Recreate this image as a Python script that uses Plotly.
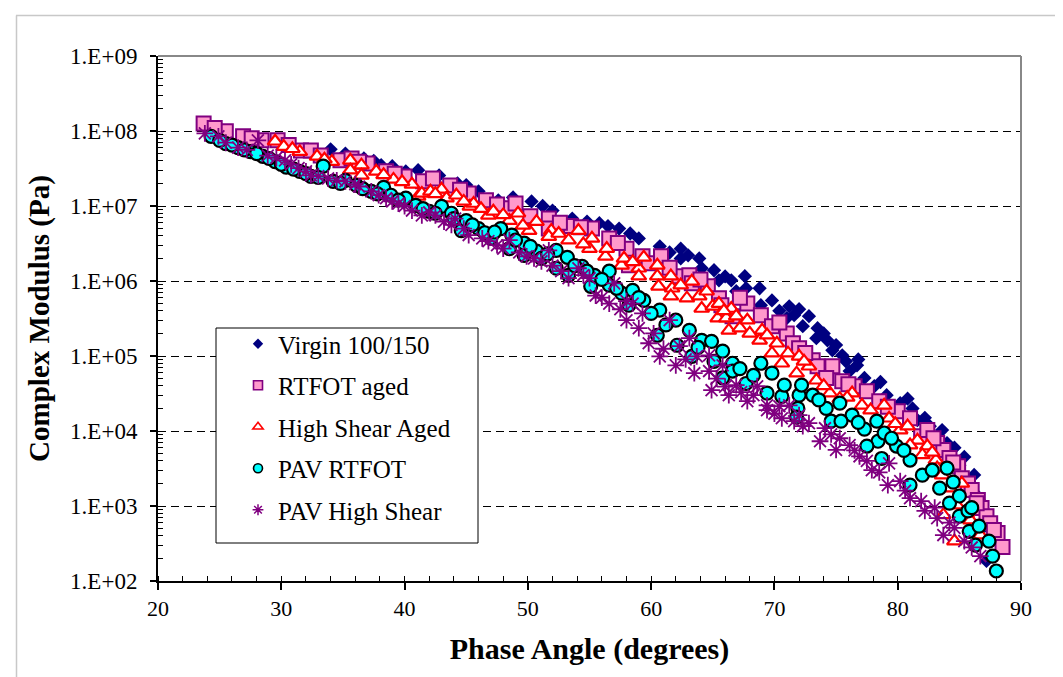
import plotly.graph_objects as go

# ---------------- data ----------------
virgin_phase = [34.0, 35.2, 36.7, 38.1, 40.1, 41.1, 42.8, 44.3, 46.0, 47.6,
                50.3, 52.0, 53.6, 55.8, 57.4, 59.0, 60.7, 62.4, 62.4, 63.9,
                64.1, 65.1, 65.5, 66.5, 66.9, 67.6, 67.7, 68.8, 68.9, 69.8,
                71.0, 71.2, 71.6, 72.3, 72.8, 73.4, 73.5, 74.3, 74.7, 75.5,
                75.8, 76.1, 76.7, 77.3, 78.1, 79.1, 80.2, 81.2, 81.6, 82.6,
                83.6, 84.0, 84.5, 85.0, 85.6, 85.9, 86.4, 87.1, 86.9, 87.2,
                37.5, 39.0, 45.0, 48.8, 51.2, 54.8, 56.5, 58.3, 61.5, 63.0,
                66.0, 70.4, 72.0, 74.0, 75.0, 76.8, 78.6, 80.8, 82.2, 84.6,
                85.4, 86.2, 86.8]
virgin_modulus = [5.7e7, 5.0e7, 4.3e7, 3.5e7, 2.9e7, 3.0e7, 2.56e7, 2.0e7, 1.57e7, 1.19e7,
                  1.15e7, 8.7e6, 6.8e6, 5.9e6, 5.0e6, 3.7e6, 2.9e6, 2.7e6, 2.0e6, 2.0e6,
                  1.48e6, 1.39e6, 1.02e6, 1.02e6, 7.3e5, 1.16e6, 8.0e5, 8.0e5, 4.75e5, 5.5e5,
                  3.2e5, 4.6e5, 3.5e5, 2.5e5, 3.4e5, 1.73e5, 2.35e5, 1.62e5, 1.19e5, 1.02e5,
                  8.5e4, 6.3e4, 7.5e4, 5.1e4, 3.95e4, 3.0e4, 2.35e4, 2.0e4, 1.4e4, 1.16e4,
                  1.03e4, 6.9e3, 3.96e3, 3.5e3, 1.9e3, 2.0e3, 1.4e3, 8.0e2, 5.1e2, 1.85e2,
                  4.0e7, 3.4e7, 1.9e7, 1.3e7, 1.0e7, 6.2e6, 5.4e6, 4.3e6, 2.4e6, 2.2e6,
                  1.15e6, 4.0e5, 4.2e5, 2.0e5, 1.4e5, 9.0e4, 4.5e4, 2.7e4, 1.5e4, 6.0e3,
                  4.5e3, 2.6e3, 1.1e3]

rtfot_phase = [23.7, 25.5, 26.9, 28.4, 29.7, 31.6, 32.4, 33.2, 34.8, 35.7,
               37.0, 38.5, 40.0, 41.5, 42.3, 43.7, 45.2, 46.6, 48.3, 49.0,
               50.2, 51.7, 51.7, 53.5, 55.2, 56.6, 58.0, 58.2, 59.3, 59.8,
               60.8, 62.3, 63.1, 63.3, 64.6, 65.5, 65.7, 66.6, 67.8, 68.9,
               69.8, 71.0, 71.5, 72.0, 73.1, 73.5, 74.7, 74.2, 75.5, 76.5,
               77.5, 78.5, 80.0, 81.0, 81.9, 82.4, 83.2, 83.7, 84.2, 84.9,
               85.2, 85.7, 86.0, 86.5, 86.8, 87.2, 86.4, 87.5, 88.1, 88.5,
               24.6, 27.6, 30.6, 36.3, 39.2, 44.5, 47.5, 52.6, 54.3, 57.3,
               61.5, 64.0, 67.2, 70.4, 72.5, 76.0, 79.2, 82.9, 84.5, 87.8]
rtfot_modulus = [1.26e8, 9.9e7, 8.5e7, 7.5e7, 7.5e7, 5.5e7, 5.5e7, 4.7e7, 4.06e7, 4.3e7,
                 3.7e7, 2.9e7, 2.48e7, 2.13e7, 2.33e7, 1.88e7, 1.47e7, 1.19e7, 9.3e6, 1.08e7,
                 7.3e6, 6.8e6, 5.0e6, 5.4e6, 5.0e6, 3.7e6, 2.7e6, 1.62e6, 2.13e6, 1.72e6,
                 2.13e6, 1.16e6, 1.19e6, 9.3e5, 8.5e5, 5.9e5, 4.75e5, 3.4e5, 5.0e5, 3.5e5,
                 2.5e5, 2.0e5, 1.48e5, 1.27e5, 8.8e4, 7.3e4, 7.3e4, 5.1e4, 4.6e4, 3.95e4,
                 3.4e4, 2.5e4, 1.84e4, 1.48e4, 8.5e3, 1.03e4, 6.9e3, 5.6e3, 4.35e3, 3.4e3,
                 2.35e3, 2.0e3, 1.63e3, 1.2e3, 9.4e2, 7.3e2, 1.09e3, 5.9e2, 4.35e2, 2.84e2,
                 1.1e8, 8.0e7, 6.5e7, 3.9e7, 2.7e7, 1.65e7, 1.05e7, 6.0e6, 5.2e6, 3.2e6,
                 1.5e6, 1.05e6, 6.0e5, 2.8e5, 1.1e5, 4.2e4, 2.1e4, 8.0e3, 3.8e3, 4.8e2]

hs_phase = [29.5, 30.2, 31.5, 32.9, 34.1, 35.6, 35.6, 36.5, 36.5, 37.7,
            39.1, 40.6, 41.1, 41.4, 42.1, 43.0, 43.4, 44.2, 45.3, 45.6,
            46.8, 47.2, 48.5, 49.2, 50.1, 50.7, 51.9, 51.7, 53.3, 54.1,
            55.0, 55.2, 56.3, 56.4, 57.6, 57.8, 59.0, 59.4, 59.0, 60.5,
            60.5, 60.6, 61.6, 61.7, 61.6, 63.3, 62.9, 63.9, 64.5, 64.1,
            65.0, 65.5, 65.4, 66.5, 66.1, 66.9, 66.3, 67.2, 67.8, 68.0,
            68.8, 69.0, 70.2, 69.8, 71.1, 70.6, 72.0, 71.8, 72.8, 73.4,
            74.5, 75.3, 76.3, 77.1, 78.9, 79.3, 80.2, 80.8, 81.6, 81.0,
            82.4, 82.0, 83.1, 83.2, 83.6, 84.2, 84.8, 83.7, 85.9, 84.6, 86.7,
            30.9, 33.5, 38.3, 39.8, 42.5, 44.8, 46.2, 48.0, 49.6, 52.5,
            54.5, 58.5, 62.4, 65.9, 69.4, 72.4, 74.0, 75.9, 77.8, 79.8,
            82.8, 85.2, 85.6]
hs_modulus = [7.3e7, 6.2e7, 5.3e7, 4.6e7, 3.9e7, 4.06e7, 3.0e7, 3.5e7, 2.56e7, 2.9e7,
              2.26e7, 1.94e7, 1.34e7, 1.47e7, 1.57e7, 1.67e7, 1.27e7, 1.39e7, 9.9e6, 1.08e7,
              7.5e6, 8.5e6, 6.4e6, 8.0e6, 4.7e6, 6.2e6, 4.7e6, 3.9e6, 3.5e6, 4.7e6,
              2.7e6, 3.7e6, 2.13e6, 2.7e6, 1.62e6, 2.0e6, 1.48e6, 2.07e6, 1.16e6, 1.62e6,
              1.16e6, 8.5e5, 1.16e6, 8.0e5, 6.3e5, 9.9e5, 5.9e5, 6.3e5, 7.3e5, 4.3e5,
              4.6e5, 5.0e5, 3.2e5, 4.3e5, 3.2e5, 3.4e5, 2.2e5, 2.35e5, 3.0e5, 2.0e5,
              1.62e5, 2.2e5, 1.48e5, 1.09e5, 1.09e5, 8.0e4, 9.9e4, 5.9e4, 7.3e4, 4.75e4,
              3.2e4, 2.7e4, 3.2e4, 2.2e4, 2.2e4, 1.48e4, 1.03e4, 1.16e4, 7.5e3, 6.5e3,
              6.3e3, 4.8e3, 4.1e3, 3.2e3, 2.58e3, 1.73e3, 1.03e3, 7.6e2, 6.5e2, 3.4e2, 4.1e2,
              5.8e7, 4.2e7, 2.6e7, 2.1e7, 1.45e7, 1.15e7, 9.2e6, 7.6e6, 5.5e6, 4.3e6,
              3.1e6, 1.8e6, 8.8e5, 4.0e5, 1.9e5, 8.5e4, 4.0e4, 2.8e4, 1.9e4, 1.25e4,
              5.2e3, 2.0e3, 8.0e2]

pr_phase = [24.3, 25.5, 26.5, 27.5, 28.5, 29.5, 30.4, 31.5, 32.4, 33.4,
            34.2, 35.2, 36.1, 37.3, 38.3, 38.9, 40.1, 40.9, 42.0, 43.0,
            43.8, 44.6, 45.0, 46.0, 47.0, 47.8, 48.7, 48.5, 49.7, 49.7,
            50.7, 51.1, 52.3, 52.3, 53.2, 53.3, 54.4, 55.1, 55.4, 56.6,
            56.6, 57.6, 58.5, 58.2, 59.4, 60.7, 60.5, 62.0, 62.1, 63.1,
            63.3, 64.1, 64.9, 65.1, 65.8, 65.8, 66.6, 66.6, 67.7, 68.9,
            69.4, 69.8, 70.6, 70.8, 71.9, 72.0, 72.2, 73.1, 74.2, 75.3,
            76.3, 77.3, 78.3, 78.4, 78.9, 79.9, 81.0, 81.0, 82.0, 83.4,
            84.0, 84.2, 84.5, 85.0, 85.0, 85.7, 85.8, 86.3, 86.6, 87.4,
            87.7, 88.0, 71.8, 74.6, 75.4, 77.5, 78.7,
            25.0, 26.0, 27.0, 28.0, 29.0, 30.0, 31.0, 32.0, 33.0, 34.8,
            36.6, 37.8, 39.5, 41.5, 42.5, 44.0, 45.5, 46.5, 47.3, 49.0,
            50.2, 51.6, 53.8, 54.8, 56.0, 57.2, 59.0, 60.0, 61.2, 63.8,
            67.2, 68.3, 73.6, 76.8, 79.5, 80.5, 82.8, 86.0]
pr_modulus = [8.5e7, 6.8e7, 6.0e7, 5.3e7, 4.6e7, 3.9e7, 3.3e7, 2.9e7, 2.48e7, 3.4e7,
              2.13e7, 2.2e7, 1.88e7, 1.57e7, 1.77e7, 1.39e7, 1.27e7, 1.02e7, 8.5e6, 9.9e6,
              8.0e6, 4.7e6, 6.4e6, 5.0e6, 3.7e6, 5.0e6, 4.1e6, 2.7e6, 3.2e6, 2.2e6,
              2.5e6, 2.0e6, 2.56e6, 1.48e6, 2.07e6, 1.19e6, 1.57e6, 8.5e5, 1.19e6, 1.35e6,
              8.8e5, 6.9e5, 7.5e5, 4.75e5, 5.5e5, 4.1e5, 1.89e5, 3.0e5, 1.39e5, 2.2e5,
              9.9e4, 1.62e5, 1.57e5, 8.5e4, 1.16e5, 5.1e4, 8.0e4, 6.3e4, 4.3e4, 8.0e4,
              3.2e4, 5.9e4, 2.9e4, 4.1e4, 2.0e4, 3.0e4, 4.1e4, 3.0e4, 2.0e4, 2.35e4,
              1.63e4, 1.06e4, 1.35e4, 7.3e3, 9.4e3, 6.3e3, 4.1e3, 1.9e3, 2.58e3, 1.73e3,
              3.2e3, 1.09e3, 2.08e3, 1.36e3, 7.3e2, 8.6e2, 4.6e2, 3.0e2, 5.4e2, 3.4e2,
              2.15e2, 1.36e2, 1.53e4, 1.35e4, 1.35e4, 6.3e3, 4.3e3,
              7.5e7, 6.5e7, 5.6e7, 5.0e7, 4.3e7, 3.6e7, 3.1e7, 2.7e7, 2.4e7, 2.0e7,
              1.7e7, 1.45e7, 1.2e7, 9.2e6, 8.0e6, 6.8e6, 5.6e6, 4.4e6, 4.5e6, 3.5e6,
              2.9e6, 2.3e6, 1.6e6, 1.35e6, 1.05e6, 8.0e5, 6.0e5, 3.7e5, 2.6e5, 1.3e5,
              6.8e4, 5.5e4, 2.6e4, 1.3e4, 8.0e3, 5.5e3, 3.0e3, 9.5e2]

ph_phase = [23.8, 24.9, 26.5, 28.1, 28.9, 30.3, 31.4, 32.4, 33.8, 35.2,
            36.3, 37.3, 38.5, 39.5, 40.6, 41.4, 42.5, 43.2, 44.1, 45.2,
            46.3, 47.5, 48.5, 49.9, 51.1, 51.7, 52.7, 53.3, 54.1, 55.0,
            55.5, 56.6, 58.0, 58.5, 59.0, 59.3, 59.8, 60.7, 61.5, 62.3,
            63.1, 63.7, 64.7, 64.7, 65.8, 66.3, 66.9, 67.8, 68.6, 69.4,
            70.4, 71.2, 72.0, 72.8, 73.7, 74.1, 75.3, 76.1, 76.9, 77.9,
            79.3, 79.2, 80.2, 81.0, 81.9, 82.2, 83.2, 83.7, 84.6, 85.4,
            86.7, 57.0, 58.0, 62.0, 63.5, 64.9, 69.4, 70.6, 72.3, 75.0,
            25.5, 27.2, 29.6, 30.8, 32.0, 33.0, 34.5, 36.0, 37.9, 39.0,
            40.0, 42.0, 43.8, 44.8, 46.8, 48.0, 49.3, 50.5, 52.0, 54.5,
            56.0, 57.5, 60.2, 61.0, 62.8, 65.3, 66.0, 67.3, 68.3, 70.0,
            71.6, 74.6, 76.5, 77.5, 78.5, 80.6, 83.0, 84.2, 86.0]
ph_modulus = [9.3e7, 8.5e7, 6.0e7, 7.5e7, 4.7e7, 4.06e7, 3.2e7, 2.56e7, 2.33e7, 2.13e7,
              1.82e7, 1.57e7, 1.27e7, 1.08e7, 8.7e6, 7.5e6, 7.5e6, 6.2e6, 6.8e6, 4.1e6,
              3.7e6, 3.0e6, 3.5e6, 2.13e6, 1.83e6, 2.56e6, 1.35e6, 1.09e6, 1.48e6, 1.09e6,
              6.4e5, 5.0e5, 3.0e5, 5.0e5, 2.35e5, 3.7e5, 1.48e5, 9.9e4, 3.0e5, 1.35e5,
              1.73e5, 9.9e4, 1.02e5, 6.3e4, 7.5e4, 3.0e4, 4.1e4, 2.5e4, 3.95e4, 2.2e4,
              2.14e4, 2.2e4, 1.63e4, 1.27e4, 7.3e3, 1.09e4, 8.0e3, 6.5e3, 4.6e3, 3.0e3,
              3.7e3, 1.9e3, 2.15e3, 1.27e3, 1.16e3, 8.6e2, 6.9e2, 4.1e2, 5.1e2, 3.4e2,
              2.15e2, 9.3e5, 5.4e5, 7.5e4, 5.9e4, 3.5e4, 1.9e4, 1.48e4, 1.16e4, 5.6e3,
              7.0e7, 5.6e7, 4.4e7, 3.6e7, 2.9e7, 2.5e7, 2.2e7, 1.95e7, 1.4e7, 1.15e7,
              1.0e7, 8.2e6, 5.6e6, 5.0e6, 3.4e6, 2.7e6, 2.4e6, 2.0e6, 1.6e6, 1.2e6,
              6.0e5, 4.2e5, 2.0e5, 1.25e5, 9.0e4, 5.0e4, 3.9e4, 3.3e4, 3.0e4, 1.7e4,
              1.35e4, 9.0e3, 5.5e3, 4.0e3, 2.8e3, 1.6e3, 9.5e2, 6.0e2, 2.8e2]

series_names = ["Virgin 100/150", "RTFOT aged", "High Shear Aged", "PAV RTFOT", "PAV High Shear"]
y_tick_values = [1e2, 1e3, 1e4, 1e5, 1e6, 1e7, 1e8, 1e9]
y_tick_labels = ["1.E+02", "1.E+03", "1.E+04", "1.E+05", "1.E+06", "1.E+07", "1.E+08", "1.E+09"]

FONT = "Liberation Serif, Times New Roman, serif"

fig = go.Figure()
styles = [
    dict(symbol="diamond", size=11, color="#000080", line=dict(color="#000080", width=0)),
    dict(symbol="square", size=14, color="#FF99CC", line=dict(color="#800080", width=2)),
    dict(symbol="triangle-up", size=13, color="white", line=dict(color="#FF0000", width=2.2)),
    dict(symbol="circle", size=13, color="#00FFFF", line=dict(color="black", width=2.2)),
    dict(symbol="asterisk-open", size=14, color="#800080", line=dict(color="#800080", width=1.8)),
]
legend_sizes = [8, 9, 9, 9, 9]
data = [(virgin_phase, virgin_modulus), (rtfot_phase, rtfot_modulus), (hs_phase, hs_modulus),
        (pr_phase, pr_modulus), (ph_phase, ph_modulus)]
for i, ((xs, ys), name, st) in enumerate(zip(data, series_names, styles)):
    fig.add_trace(go.Scatter(x=xs, y=ys, mode="markers", name=name, legendgroup=f"g{i}",
                             marker=st, showlegend=False, cliponaxis=False))
# legend entries (smaller symbols, as in the reference legend)
for i, (name, st, ls) in enumerate(zip(series_names, styles, legend_sizes)):
    m = dict(st)
    m["size"] = ls
    if i == 4:
        m["line"] = dict(color="#800080", width=1.5)
    if i in (1, 2, 3):
        m["line"] = dict(color=st["line"]["color"], width=1.6)
    fig.add_trace(go.Scatter(x=[None], y=[None], mode="markers", name=name,
                             legendgroup=f"g{i}", marker=m, showlegend=True))

# paper-coordinate helpers (plot area: x 150..1013 px, y 48..573 px)
def px(xp):
    return (xp - 150) / 863.0
def py(yp):
    return (573 - yp) / 525.0

shapes = [
    dict(type="line", xref="paper", yref="paper", x0=0, x1=1, y0=1, y1=1,
         line=dict(color="#888888", width=2), layer="above"),
    dict(type="line", xref="paper", yref="paper", x0=1, x1=1, y0=0, y1=1,
         line=dict(color="#888888", width=2), layer="above"),
    dict(type="line", xref="paper", yref="paper", x0=px(8), x1=px(1100), y0=py(7.5), y1=py(7.5),
         line=dict(color="#C8C8C8", width=1.5)),
    dict(type="line", xref="paper", yref="paper", x0=px(8.5), x1=px(8.5), y0=py(700), y1=py(7.5),
         line=dict(color="#C8C8C8", width=1.5)),
    # legend box (opaque, hides grid lines behind legend)
    dict(type="rect", xref="paper", yref="paper", x0=px(208), x1=px(470), y0=py(535), y1=py(320),
         line=dict(color="black", width=1), fillcolor="white", layer="above"),
]

fig.update_layout(
    width=1063, height=677,
    margin=dict(l=150, r=50, t=48, b=104, autoexpand=False),
    paper_bgcolor="white", plot_bgcolor="rgba(0,0,0,0)",
    font=dict(family=FONT, color="black"),
    shapes=shapes,
    showlegend=True,
    legend=dict(x=px(230), y=py(313), xanchor="left", yanchor="top",
                bgcolor="rgba(0,0,0,0)", borderwidth=0,
                font=dict(family=FONT, size=25, color="black"),
                traceorder="grouped", tracegroupgap=6, itemsizing="trace"),
    xaxis=dict(range=[20, 90], tick0=20, dtick=10, ticks="outside", ticklen=7,
               tickwidth=1.5, tickcolor="black", showline=True, linecolor="black",
               linewidth=2, showgrid=False, zeroline=False,
               tickfont=dict(family=FONT, size=22), ticklabelstandoff=0,
               minor=dict(ticks="inside", dtick=2, ticklen=5, tickwidth=1.2,
                          tickcolor="black", showgrid=False),
               title=dict(text="<b>Phase Angle (degrees)</b>",
                          font=dict(family=FONT, size=30), standoff=18),
               automargin=False),
    yaxis=dict(type="log", range=[2, 9], tickvals=y_tick_values, ticktext=y_tick_labels,
               ticks="outside", ticklen=6, tickwidth=1.5, tickcolor="black",
               showline=True, linecolor="black", linewidth=2,
               showgrid=True, gridcolor="black", gridwidth=1, griddash="8px,5px",
               zeroline=False, tickfont=dict(family=FONT, size=23), ticklabelstandoff=8,
               minor=dict(ticks="inside", dtick="D1", ticklen=5, tickwidth=1.2,
                          tickcolor="black", showgrid=False),
               title=dict(text="<b>Complex Modulus (Pa)</b>",
                          font=dict(family=FONT, size=29), standoff=12),
               automargin=False),
)

fig.write_html("out.html")
